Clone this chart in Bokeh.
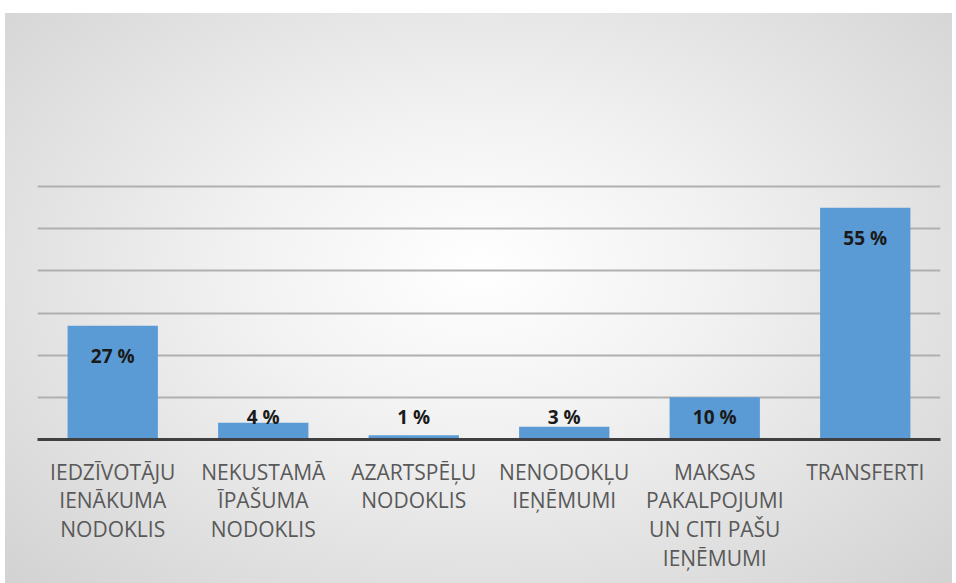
from bokeh.plotting import figure
from bokeh.models import ColumnDataSource, Spacer, Label
from bokeh.layouts import column, row
from bokeh.core.properties import value
from bokeh.embed import file_html
from bokeh.resources import INLINE

title_lines = ["Pamatbudžeta ieņēmumu struktūra", "2014.gadā"]
categories = [
    "IEDZĪVOTĀJU\nIENĀKUMA\nNODOKLIS",
    "NEKUSTAMĀ\nĪPAŠUMA\nNODOKLIS",
    "AZARTSPĒĻU\nNODOKLIS",
    "NENODOKĻU\nIEŅĒMUMI",
    "MAKSAS\nPAKALPOJUMI\nUN CITI PAŠU\nIEŅĒMUMI",
    "TRANSFERTI",
]
shares = [27, 4, 1, 3, 10, 55]
grid_ticks = [0, 10, 20, 30, 40, 50, 60]
label_texts = [f"{v} %" for v in shares]

# label anchor: inside end for tall bars, above for short ones
label_y = [max(v - 7.2, 5.4) for v in shares]

src = ColumnDataSource(dict(cat=categories, v=shares, ly=label_y, t=label_texts))

W, H = 947, 570
BL, BR = 32, 12

p = figure(
    x_range=categories, y_range=(0, 60.5),
    width=W, height=H,
    output_backend="svg", toolbar_location=None,
    background_fill_color=None, border_fill_color=None,
    min_border_left=BL, min_border_right=BR, min_border_top=171, min_border_bottom=144,
    styles={"background": "radial-gradient(ellipse at 50% 45%, #ffffff 0%, #f2f2f2 35%, #d2d2d2 100%)"},
)
p.outline_line_color = None
p.title.visible = False

# two-line chart title, centred over the plot frame, in the space above it
for txt, base in zip(title_lines, [85.8, 72.2]):
    p.add_layout(Label(x=(W - BL - BR) / 2, y=base, x_units="screen", y_units="data",
                       text=txt, text_align="center", text_baseline="alphabetic",
                       text_font="Open Sans", text_font_style="bold", text_font_size="39px",
                       text_color="#404040"))

p.vbar(x="cat", top="v", width=0.6, source=src, fill_color="#5b9bd5", line_color=None)

p.text(x="cat", y="ly", text="t", source=src, text_align="center", text_baseline="middle",
       text_font=value("Open Sans"), text_font_style="bold", text_font_size="19px",
       text_color="#1a1a1a")

p.yaxis.visible = False
p.ygrid.grid_line_color = "#b0b0b0"
p.ygrid.grid_line_width = 2
p.ygrid.ticker = grid_ticks
p.xgrid.grid_line_color = None

xa = p.xaxis[0]
xa.axis_line_color = "#404040"
xa.axis_line_width = 3
xa.major_tick_line_color = None
xa.minor_tick_line_color = None
xa.major_label_text_font = "Open Sans"
xa.major_label_text_font_size = "21px"
xa.major_label_text_line_height = 1.03
xa.major_label_text_color = "#595959"
xa.major_label_standoff = 12
p.x_range.range_padding = 0

layout = row(Spacer(width=5, height=583), column(Spacer(height=13, width=W), p))
open("out.html", "w").write(file_html(layout, INLINE))
